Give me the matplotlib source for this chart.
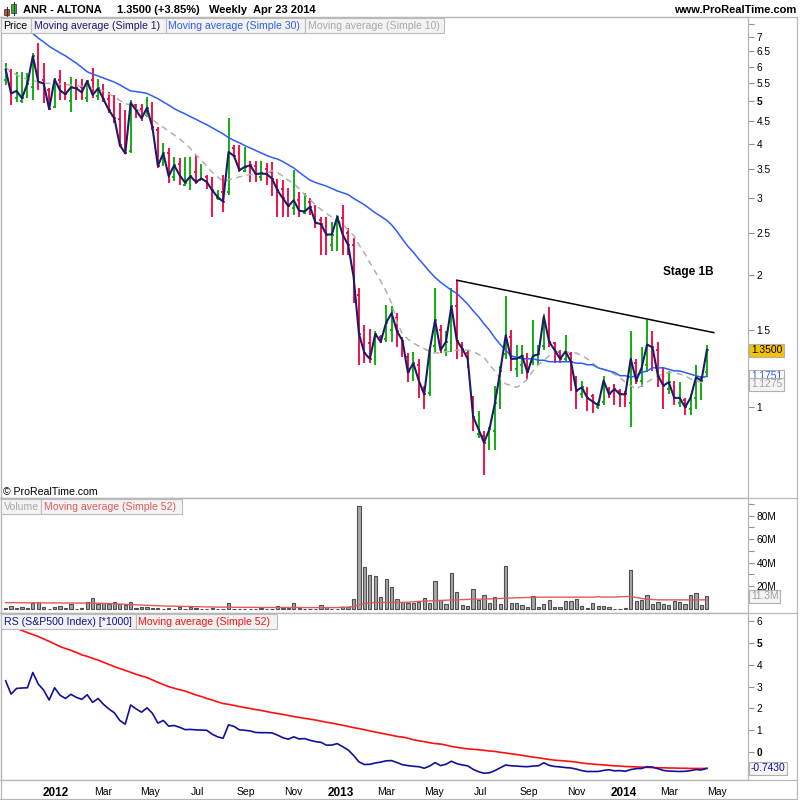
import numpy as np
import pandas as pd
import matplotlib
matplotlib.use("Agg")
import matplotlib.pyplot as plt
import matplotlib.dates as mdates
from matplotlib.lines import Line2D
from matplotlib.patches import Rectangle

plt.rcParams['font.family'] = ['Liberation Sans', 'DejaVu Sans']

# weekly bars, first week starts Mon 31 Oct 2011, last one is week of Apr 23 2014
first_week = '2011-10-31'

opens = [5.60, 5.85, 5.10, 5.00, 5.15, 5.40, 6.30, 5.60, 5.30, 4.85,
         5.60, 5.30, 5.00, 5.45, 5.40, 5.10, 5.60, 5.15, 5.35, 5.05,
         4.85, 4.55, 4.00, 3.85, 4.90, 4.80, 4.65, 4.85, 4.30, 3.60,
         3.80, 3.35, 3.60, 3.22, 3.25, 3.45, 3.31, 3.35, 3.25, 3.00,
         3.10, 3.10, 3.90, 3.80, 3.47, 3.62, 3.55, 3.35, 3.50, 3.45,
         3.30, 3.15, 3.05, 2.85, 2.98, 2.78, 2.95, 2.85, 2.68, 2.60,
         2.35, 2.45, 2.70, 2.50, 2.35, 1.80, 1.50, 1.40, 1.30, 1.45,
         1.43, 1.50, 1.60, 1.44, 1.30, 1.18, 1.25, 1.10, 1.08, 1.38,
         1.50, 1.35, 1.40, 1.70, 1.39, 1.33, 1.02, 0.87, 0.86, 0.82,
         0.88, 1.03, 1.32, 1.45, 1.22, 1.25, 1.30, 1.27, 1.28, 1.38,
         1.60, 1.40, 1.34, 1.29, 1.32, 1.15, 1.07, 1.09, 1.06, 1.00,
         1.03, 1.10, 1.12, 1.09, 1.08, 1.02, 1.26, 1.15, 1.25, 1.40,
         1.35, 1.18, 1.10, 1.12, 1.02, 1.04, 0.99, 1.05, 1.12, 1.20]
highs = [6.10, 5.91, 5.84, 5.84, 5.79, 6.43, 6.80, 6.10, 5.35, 5.64,
         5.89, 5.54, 5.69, 5.61, 5.61, 5.60, 5.95, 5.61, 5.49, 5.25,
         5.17, 4.95, 4.77, 5.03, 4.93, 4.93, 5.12, 4.99, 4.37, 4.01,
         3.90, 3.73, 3.71, 3.73, 3.73, 3.76, 3.60, 3.40, 3.35, 3.13,
         3.40, 4.59, 3.97, 3.97, 3.94, 3.65, 3.65, 3.65, 3.62, 3.64,
         3.33, 3.31, 3.16, 3.48, 3.10, 3.08, 3.00, 2.90, 2.72, 2.72,
         2.65, 2.75, 2.90, 2.56, 2.43, 1.87, 1.54, 1.51, 1.49, 1.46,
         1.71, 1.70, 1.64, 1.45, 1.33, 1.34, 1.29, 1.12, 1.37, 1.87,
         1.54, 1.49, 1.87, 1.95, 1.41, 1.35, 1.06, 0.98, 0.88, 0.90,
         1.12, 1.24, 1.79, 1.50, 1.39, 1.39, 1.33, 1.58, 1.39, 1.63,
         1.69, 1.41, 1.35, 1.46, 1.34, 1.18, 1.15, 1.11, 1.07, 1.03,
         1.18, 1.11, 1.13, 1.10, 1.09, 1.49, 1.29, 1.37, 1.58, 1.49,
         1.41, 1.23, 1.21, 1.15, 1.14, 1.05, 1.07, 1.25, 1.18, 1.39]
lows = [5.45, 4.90, 4.99, 4.95, 5.08, 5.03, 5.30, 4.95, 4.77, 4.82,
        5.03, 5.03, 4.73, 5.03, 5.03, 4.99, 5.08, 5.03, 4.99, 4.69,
        4.45, 3.94, 3.78, 3.80, 4.57, 4.50, 4.60, 4.30, 3.52, 3.56,
        3.25, 3.29, 3.22, 3.20, 3.13, 3.24, 3.30, 3.15, 2.72, 2.98,
        2.79, 3.05, 3.72, 3.45, 3.45, 3.27, 3.27, 3.29, 3.22, 3.03,
        2.72, 2.72, 2.72, 2.75, 2.72, 2.77, 2.75, 2.56, 2.23, 2.23,
        2.28, 2.28, 2.23, 2.23, 1.73, 1.25, 1.26, 1.26, 1.25, 1.40,
        1.41, 1.41, 1.37, 1.30, 1.14, 1.15, 1.05, 0.99, 1.06, 1.34,
        1.33, 1.31, 1.34, 1.29, 1.30, 1.23, 0.88, 0.85, 0.70, 0.80,
        0.80, 0.99, 1.29, 1.21, 1.17, 1.19, 1.16, 1.25, 1.25, 1.35,
        1.37, 1.26, 1.26, 1.27, 1.09, 0.99, 1.05, 0.98, 0.97, 0.99,
        1.01, 1.05, 1.01, 1.00, 1.00, 0.90, 1.13, 1.11, 1.20, 1.21,
        1.11, 0.99, 1.07, 1.01, 1.00, 0.96, 0.96, 0.99, 1.04, 1.17]
closes = [5.91, 5.21, 5.28, 5.08, 5.49, 6.34, 5.54, 5.49, 4.80, 5.61,
          5.29, 5.19, 5.38, 5.35, 5.24, 5.56, 5.17, 5.35, 5.05, 4.77,
          4.57, 3.97, 3.80, 4.96, 4.77, 4.57, 4.83, 4.36, 3.56, 3.80,
          3.37, 3.57, 3.39, 3.26, 3.37, 3.27, 3.33, 3.27, 3.13, 3.02,
          2.95, 3.83, 3.75, 3.48, 3.54, 3.57, 3.41, 3.42, 3.41, 3.33,
          3.13, 3.00, 2.88, 2.97, 2.81, 2.80, 2.87, 2.64, 2.62, 2.48,
          2.48, 2.72, 2.48, 2.35, 1.99, 1.47, 1.33, 1.29, 1.47, 1.41,
          1.56, 1.64, 1.49, 1.42, 1.20, 1.26, 1.15, 1.07, 1.35, 1.58,
          1.35, 1.41, 1.70, 1.42, 1.36, 1.29, 0.95, 0.89, 0.83, 0.89,
          1.02, 1.21, 1.46, 1.29, 1.29, 1.31, 1.20, 1.31, 1.32, 1.61,
          1.41, 1.35, 1.29, 1.34, 1.27, 1.09, 1.11, 1.05, 1.03, 1.01,
          1.15, 1.07, 1.10, 1.07, 1.07, 1.29, 1.15, 1.23, 1.39, 1.37,
          1.18, 1.12, 1.14, 1.05, 1.05, 1.00, 1.05, 1.17, 1.15, 1.35]

nan = float('nan')
ma30 = [nan, nan, nan, nan, nan, 7.14, 6.97, 6.83, 6.68, 6.56,
        6.45, 6.35, 6.23, 6.11, 5.98, 5.84, 5.77, 5.71, 5.65, 5.59,
        5.53, 5.45, 5.36, 5.28, 5.26, 5.24, 5.21, 5.14, 5.07, 4.98,
        4.90, 4.81, 4.74, 4.68, 4.61, 4.55, 4.48, 4.42, 4.35, 4.28,
        4.21, 4.13, 4.07, 4.02, 3.96, 3.91, 3.86, 3.81, 3.76, 3.72,
        3.69, 3.64, 3.58, 3.52, 3.44, 3.37, 3.30, 3.26, 3.23, 3.20,
        3.16, 3.12, 3.09, 3.06, 3.00, 2.95, 2.90, 2.84, 2.78, 2.73,
        2.68, 2.61, 2.52, 2.42, 2.33, 2.26, 2.18, 2.11, 2.04, 1.98,
        1.93, 1.89, 1.85, 1.82, 1.77, 1.72, 1.66, 1.61, 1.55, 1.50,
        1.44, 1.39, 1.35, 1.31, 1.30, 1.29, 1.29, 1.29, 1.28, 1.28,
        1.27, 1.27, 1.27, 1.27, 1.27, 1.26, 1.26, 1.25, 1.25, 1.23,
        1.22, 1.21, 1.20, 1.18, 1.18, 1.17, 1.18, 1.20, 1.21, 1.23,
        1.23, 1.23, 1.22, 1.21, 1.21, 1.20, 1.19, 1.18, 1.17, 1.175]
ma10 = [5.98, 5.83, 5.75, 5.67, 5.61, 5.57, 5.54, 5.50, 5.49, 5.48,
        5.47, 5.46, 5.45, 5.43, 5.41, 5.38, 5.35, 5.32, 5.28, 5.20,
        5.12, 5.02, 4.94, 4.90, 4.81, 4.73, 4.65, 4.54, 4.44, 4.36,
        4.27, 4.19, 4.10, 4.01, 3.90, 3.77, 3.67, 3.55, 3.44, 3.36,
        3.28, 3.31, 3.33, 3.36, 3.38, 3.40, 3.40, 3.41, 3.42, 3.47,
        3.44, 3.37, 3.30, 3.24, 3.16, 3.06, 2.98, 2.90, 2.83, 2.77,
        2.72, 2.68, 2.62, 2.54, 2.47, 2.35, 2.25, 2.14, 2.04, 1.94,
        1.84, 1.73, 1.56, 1.47, 1.43, 1.40, 1.38, 1.36, 1.34, 1.33,
        1.33, 1.34, 1.34, 1.35, 1.35, 1.35, 1.34, 1.32, 1.30, 1.25,
        1.21, 1.16, 1.13, 1.12, 1.11, 1.13, 1.16, 1.21, 1.25, 1.28,
        1.31, 1.34, 1.34, 1.34, 1.33, 1.33, 1.31, 1.29, 1.26, 1.23,
        1.22, 1.21, 1.19, 1.17, 1.14, 1.12, 1.10, 1.12, 1.14, 1.16,
        1.18, 1.19, 1.20, 1.20, 1.19, 1.18, 1.16, 1.15, 1.14, 1.1275]

# volume in millions of shares
volume_m = [1.1, 2.8, 1.4, 2.0, 1.1, 5.1, 6.2, 2.0, 0.6, 2.0,
            3.1, 1.1, 4.3, 0.6, 1.4, 6.0, 10.2, 4.5, 5.1, 4.5,
            6.0, 4.5, 3.7, 6.8, 1.0, 2.0, 2.0, 0.9, 0.9, 0.6,
            1.1, 0.3, 1.7, 0.3, 1.7, 1.4, 0.3, 0.3, 1.1, 0.3,
            0.3, 5.1, 0.2, 0.3, 0.3, 0.6, 0.3, 1.1, 0.3, 0.3,
            2.6, 1.4, 1.4, 5.1, 1.4, 0.6, 0.3, 0.4, 3.4, 1.7,
            0.3, 0.5, 1.7, 1.7, 8.8, 88.0, 36.0, 29.2, 28.4, 10.5,
            25.8, 19.0, 8.8, 6.0, 5.7, 5.7, 6.2, 9.6, 5.4, 24.1,
            7.9, 4.5, 30.9, 14.8, 3.7, 2.8, 17.3, 7.9, 12.2, 5.4,
            10.5, 4.5, 36.9, 5.4, 5.4, 3.7, 2.0, 11.3, 2.0, 4.5,
            7.9, 2.0, 2.0, 7.1, 7.1, 8.8, 2.8, 1.1, 5.4, 2.8,
            2.8, 2.0, 0.3, 0.3, 1.1, 33.5, 7.1, 7.9, 12.2, 4.5,
            6.2, 4.5, 3.7, 7.1, 6.2, 4.5, 12.2, 13.9, 3.7, 11.3]
volume_ma52 = [5.8, 5.8, 5.8, 5.7, 5.7, 5.7, 5.7, 5.6, 5.6, 5.6,
               5.6, 5.5, 5.5, 5.5, 5.5, 5.4, 5.4, 5.3, 5.2, 5.0,
               4.8, 4.6, 4.4, 4.2, 4.0, 3.8, 3.6, 3.4, 3.2, 3.0,
               2.9, 2.8, 2.7, 2.6, 2.5, 2.4, 2.3, 2.2, 2.1, 2.0,
               2.0, 1.9, 1.9, 1.8, 1.8, 1.8, 1.8, 1.7, 1.7, 1.7,
               1.7, 1.7, 1.7, 1.7, 1.7, 1.6, 1.6, 1.6, 1.6, 1.6,
               1.6, 1.6, 2.0, 2.0, 2.5, 4.0, 5.0, 5.6, 6.0, 6.0,
               6.0, 6.0, 6.0, 6.0, 6.2, 6.5, 6.9, 7.1, 7.3, 7.5,
               7.7, 7.9, 8.1, 8.2, 8.4, 8.6, 8.8, 8.8, 8.9, 9.0,
               9.2, 9.4, 9.6, 9.8, 9.9, 10.1, 10.2, 10.3, 10.5, 10.5,
               10.5, 10.5, 10.5, 10.5, 10.5, 10.5, 10.5, 10.5, 10.5, 10.8,
               10.5, 10.5, 10.6, 10.8, 11.0, 11.1, 10.2, 9.4, 8.8, 8.5,
               8.2, 8.2, 8.2, 8.2, 8.2, 8.2, 8.2, 8.2, 8.2, 8.2]

# relative strength vs S&P500 (*1000)
rs = [3.27, 2.66, 2.92, 2.94, 2.95, 3.65, 3.12, 2.84, 2.39, 2.95,
      2.61, 2.46, 2.65, 2.51, 2.42, 2.63, 2.28, 2.46, 2.19, 1.98,
      1.80, 1.45, 1.28, 2.16, 1.98, 1.83, 2.03, 1.78, 1.33, 1.45,
      1.19, 1.22, 1.14, 1.03, 1.04, 1.02, 1.01, 1.00, 0.82, 0.70,
      0.63, 1.25, 1.18, 1.02, 1.00, 0.97, 0.90, 0.89, 0.89, 0.88,
      0.78, 0.66, 0.59, 0.70, 0.60, 0.62, 0.54, 0.48, 0.45, 0.32,
      0.32, 0.39, 0.25, 0.10, -0.15, -0.45, -0.57, -0.56, -0.50, -0.46,
      -0.40, -0.39, -0.48, -0.58, -0.62, -0.65, -0.67, -0.74, -0.64, -0.48,
      -0.62, -0.56, -0.42, -0.53, -0.59, -0.63, -0.79, -0.90, -0.97, -0.95,
      -0.85, -0.72, -0.59, -0.63, -0.64, -0.66, -0.67, -0.64, -0.63, -0.49,
      -0.61, -0.66, -0.68, -0.71, -0.73, -0.78, -0.85, -0.89, -0.89, -0.89,
      -0.84, -0.81, -0.86, -0.85, -0.88, -0.80, -0.76, -0.75, -0.67, -0.69,
      -0.76, -0.84, -0.87, -0.88, -0.89, -0.88, -0.85, -0.80, -0.82, -0.743]
rs_ma52 = [5.88, 5.78, 5.68, 5.58, 5.48, 5.39, 5.30, 5.19, 5.08, 4.96,
           4.84, 4.75, 4.67, 4.57, 4.46, 4.39, 4.30, 4.22, 4.12, 4.02,
           3.92, 3.83, 3.75, 3.66, 3.57, 3.49, 3.42, 3.31, 3.20, 3.10,
           3.00, 2.93, 2.86, 2.80, 2.71, 2.62, 2.55, 2.46, 2.39, 2.30,
           2.23, 2.19, 2.14, 2.09, 2.04, 2.00, 1.95, 1.91, 1.86, 1.81,
           1.77, 1.73, 1.68, 1.63, 1.59, 1.55, 1.51, 1.47, 1.42, 1.37,
           1.33, 1.28, 1.23, 1.18, 1.12, 1.08, 1.03, 0.97, 0.92, 0.87,
           0.82, 0.77, 0.72, 0.69, 0.64, 0.57, 0.52, 0.48, 0.43, 0.39,
           0.37, 0.32, 0.26, 0.22, 0.18, 0.15, 0.13, 0.11, 0.08, 0.05,
           0.03, -0.01, -0.04, -0.08, -0.11, -0.15, -0.19, -0.23, -0.26, -0.30,
           -0.34, -0.37, -0.39, -0.41, -0.43, -0.46, -0.50, -0.53, -0.55, -0.57,
           -0.59, -0.61, -0.63, -0.64, -0.66, -0.67, -0.68, -0.69, -0.70, -0.71,
           -0.72, -0.72, -0.73, -0.73, -0.74, -0.74, -0.75, -0.75, -0.75, -0.75]

# hand drawn resistance line
trend_dates = ['2013-06-03', '2014-04-30']
trend_values = [1.95, 1.48]

price_ticks = [1, 1.5, 2, 2.5, 3, 3.5, 4, 4.5, 5, 5.5, 6, 6.5, 7]
volume_ticks = [20, 40, 60, 80]
rs_ticks = [0, 1, 2, 3, 4, 5, 6]

GREEN = '#00a800'
RED = '#f0003c'
GRID = '#b8b8b8'

dates = pd.date_range(first_week, periods=len(closes), freq='7D')
d = mdates.date2num(dates)
x_left, x_right = d[0] - 6, d[-1] + 53

W, H = 800, 800
fig = plt.figure(figsize=(8, 8), dpi=100)


def px_axes(top, bottom):
    return fig.add_axes([1 / W, 1 - bottom / H, 747 / W, (bottom - top) / H])


ax_p = px_axes(17, 498)
ax_v = px_axes(498, 613)
ax_r = px_axes(613, 780)

for ax in (ax_p, ax_v, ax_r):
    ax.set_xlim(x_left, x_right)
    ax.yaxis.tick_right()
    ax.tick_params(axis='y', which='both', direction='out', length=4, width=0.8,
                   color='#909090', labelsize=7.3, pad=2)
    ax.tick_params(axis='x', length=0)
    for s in ax.spines.values():
        s.set_color(GRID)
        s.set_linewidth(0.9)

# ---- price panel ----
ax_p.set_yscale('log')
ax_p.set_ylim(0.62, 7.79)
bar_colors = [GREEN if c >= o else RED for o, c in zip(opens, closes)]
ax_p.vlines(d, lows, highs, colors=bar_colors, lw=1.3, zorder=2)
ax_p.hlines(opens, d - 2.2, d, colors=bar_colors, lw=1.3, zorder=2)
ax_p.hlines(closes, d, d + 2.2, colors=bar_colors, lw=1.3, zorder=2)
ax_p.plot(d, ma10, color='#b0b0b0', lw=1.1, dashes=(4, 3), zorder=3)
ax_p.plot(d, ma30, color='#2f5cf5', lw=1.1, zorder=3)
ax_p.plot(d, closes, color='#1b1b6a', lw=1.5, zorder=4)
ax_p.plot(mdates.date2num(pd.to_datetime(trend_dates)), trend_values,
          color='black', lw=1.1, zorder=5)
ax_p.text(0.886, 0.469, 'Stage 1B', transform=ax_p.transAxes, fontsize=8.5,
          fontweight='bold', ha='left', va='center')

ax_p.yaxis.set_minor_locator(matplotlib.ticker.FixedLocator([7.5]))
ax_p.yaxis.set_minor_formatter(matplotlib.ticker.NullFormatter())
ax_p.set_yticks(price_ticks)
ax_p.set_yticklabels(['%g' % t for t in price_ticks])
for lab in ax_p.get_yticklabels():
    if lab.get_text() == '5':
        lab.set_fontweight('bold')
ax_p.set_xticks([])

# ---- volume panel ----
ax_v.bar(d, volume_m, width=4.2, color='#a6a6a6', edgecolor='#505050', lw=0.8, zorder=2)
ax_v.plot(d, volume_ma52, color='#e05a5a', lw=1.0, zorder=3)
ax_v.set_ylim(-3.0, 95)
ax_v.set_yticks(volume_ticks)
ax_v.set_yticklabels(['%dM' % t for t in volume_ticks])
ax_v.yaxis.set_minor_locator(matplotlib.ticker.FixedLocator([10, 30, 50, 70, 90]))
ax_v.set_xticks([])

# ---- RS panel ----
ax_r.plot(d, rs_ma52, color='#ff1010', lw=1.2, zorder=2)
ax_r.plot(d, rs, color='#10109a', lw=1.2, zorder=3)
ax_r.set_ylim(-1.28, 6.38)
ax_r.set_yticks(rs_ticks)
ax_r.set_yticklabels([str(t) for t in rs_ticks])
for lab in ax_r.get_yticklabels():
    if lab.get_text() in ('0', '5'):
        lab.set_fontweight('bold')

month_ticks = pd.date_range('2012-01-01', '2014-05-01', freq='2MS')
ax_r.set_xticks(mdates.date2num(month_ticks) + 3)
ax_r.set_xticklabels([str(t.year) if t.month == 1 else t.strftime('%b') for t in month_ticks])
ax_r.tick_params(axis='x', labelsize=7.5, pad=5)
for lab, t in zip(ax_r.get_xticklabels(), month_ticks):
    if t.month == 1:
        lab.set_fontweight('bold')
        lab.set_fontsize(8.5)

# ---- last value boxes on the right scale ----
def value_box(ax, y, text, fc, tc):
    ax.text(1.004, y, text, transform=ax.get_yaxis_transform(), fontsize=7.4,
            color=tc, ha='left', va='center', clip_on=False, zorder=10,
            bbox=dict(boxstyle='square,pad=0.15', fc=fc, ec='#b0b0b0', lw=0.8))

value_box(ax_p, ma30[-1], '1.1751', 'white', '#2f5cf5')
value_box(ax_p, ma10[-1], '1.1275', '#f4f4f4', '#a0a0a0')
value_box(ax_p, closes[-1], '1.3500', '#f5c400', 'black')
value_box(ax_v, volume_m[-1], '11.3M', '#f4f4f4', '#a0a0a0')
value_box(ax_r, rs[-1], '-0.7430', '#f4f4f4', '#10109a')

# ---- legends: row of joined boxes on top of each panel ----
def legend_row(top_px, items, h_px=15):
    for x0, x1, text, color in items:
        fig.add_artist(Rectangle((x0 / W, 1 - (top_px + h_px) / H), (x1 - x0) / W, h_px / H,
                                 fc='#f3f3f3', ec='#bcbcbc', lw=0.8, zorder=15))
        fig.text((x0 + 2.5) / W, 1 - (top_px + h_px / 2 + 0.5) / H, text, fontsize=7.6,
                 color=color, ha='left', va='center', zorder=20)

legend_row(18, [(1, 31, 'Price', 'black'),
                (31, 166, 'Moving average (Simple 1)', '#1b1b6a'),
                (166, 305, 'Moving average (Simple 30)', '#2f5cf5'),
                (305, 444, 'Moving average (Simple 10)', '#a8a8a8')])
legend_row(499, [(1, 41, 'Volume', '#a8a8a8'),
                 (41, 182, 'Moving average (Simple 52)', '#e05a5a')])
legend_row(614, [(1, 136, 'RS (S&P500 Index) [*1000]', '#10109a'),
                 (136, 277, 'Moving average (Simple 52)', '#ff1010')])

fig.text(3 / W, 1 - 492 / H, '\u00a9 ProRealTime.com', fontsize=7.6, ha='left', va='center')

# ---- header ----
fig.text(23 / W, 1 - 10 / H, 'ANR - ALTONA', fontsize=8, fontweight='bold', va='center')
fig.text(117 / W, 1 - 10 / H, '1.3500 (+3.85%)', fontsize=8, fontweight='bold', va='center')
fig.text(209 / W, 1 - 10 / H, 'Weekly  Apr 23 2014', fontsize=8, fontweight='bold', va='center')
fig.text(796 / W, 1 - 10 / H, 'www.ProRealTime.com', fontsize=8, fontweight='bold',
         ha='right', va='center')
# little candlestick icon
fig.add_artist(Line2D([6.5 / W] * 2, [1 - 17 / H, 1 - 7 / H], color='#333333', lw=0.8))
fig.add_artist(Rectangle((4 / W, 1 - 15 / H), 5 / W, 6 / H, fc='#e04040', ec='#444444', lw=0.6))
fig.add_artist(Line2D([13.5 / W] * 2, [1 - 15 / H, 1 - 2 / H], color='#333333', lw=0.8))
fig.add_artist(Rectangle((11 / W, 1 - 13 / H), 5 / W, 9 / H, fc='#30c030', ec='#444444', lw=0.6))

# frame lines reaching the right scale
for y_px in (17, 498, 613, 780):
    fig.add_artist(Line2D([0, 797 / W], [1 - y_px / H] * 2, color=GRID, lw=0.9))
fig.add_artist(Line2D([797 / W] * 2, [1 - 799 / H, 1 - 17 / H], color=GRID, lw=0.9))
fig.add_artist(Line2D([0, 797 / W], [1 - 799 / H] * 2, color=GRID, lw=0.9))
fig.add_artist(Line2D([0.5 / W] * 2, [1 - 799 / H, 1 - 17 / H], color=GRID, lw=0.9))

fig.savefig('out.png', dpi=100)
